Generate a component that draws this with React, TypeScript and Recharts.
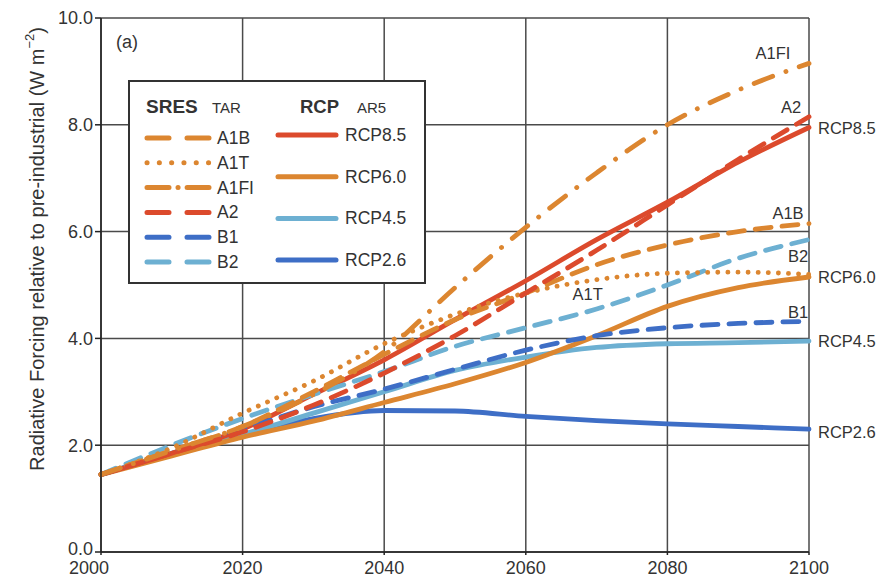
import {
  CartesianGrid,
  Label,
  LabelList,
  Legend,
  Line,
  LineChart,
  XAxis,
  YAxis,
} from 'recharts';

const YEARS = [2000, 2010, 2020, 2030, 2040, 2050, 2060, 2070, 2080, 2090, 2100];

// SRES (TAR) scenarios
const A1B = [1.45, 1.9, 2.35, 3.0, 3.7, 4.35, 4.85, 5.38, 5.75, 6.0, 6.15];
const A1T = [1.45, 1.95, 2.6, 3.2, 3.9, 4.45, 4.85, 5.1, 5.22, 5.24, 5.2];
const A1FI = [1.45, 1.9, 2.35, 2.95, 3.75, 4.95, 6.08, 7.1, 8.0, 8.65, 9.15];
const A2 = [1.45, 1.85, 2.25, 2.75, 3.35, 4.05, 4.85, 5.65, 6.5, 7.35, 8.15];
const B1 = [1.45, 1.87, 2.3, 2.72, 3.05, 3.42, 3.78, 4.05, 4.2, 4.28, 4.32];
const B2 = [1.45, 2.0, 2.5, 2.95, 3.38, 3.85, 4.2, 4.55, 5.0, 5.5, 5.85];

// RCP (AR5) pathways
const RCP85 = [1.45, 1.85, 2.3, 2.95, 3.6, 4.35, 5.08, 5.85, 6.55, 7.3, 7.95];
const RCP60 = [1.45, 1.8, 2.15, 2.45, 2.8, 3.15, 3.55, 4.05, 4.6, 4.95, 5.15];
const RCP45 = [1.45, 1.85, 2.2, 2.6, 3.0, 3.4, 3.65, 3.83, 3.9, 3.92, 3.95];
const RCP26 = [1.45, 1.85, 2.2, 2.5, 2.65, 2.64, 2.54, 2.46, 2.4, 2.35, 2.3];

const X_TICKS = [2000, 2020, 2040, 2060, 2080, 2100];
const Y_TICKS = [0, 2, 4, 6, 8, 10];

const RED = '#dc4a2c';
const ORANGE = '#dc8630';
const LIGHT = '#6db0d2';
const BLUE = '#3e6ec6';
const FONT = '"Liberation Sans", Arial, sans-serif';
const INK = '#333';

const data = YEARS.map((year, i) => ({
  year,
  A1B: A1B[i],
  A1T: A1T[i],
  A1FI: A1FI[i],
  A2: A2[i],
  B1: B1[i],
  B2: B2[i],
  RCP85: RCP85[i],
  RCP60: RCP60[i],
  RCP45: RCP45[i],
  RCP26: RCP26[i],
}));

interface Series {
  key: string;
  name: string;
  color: string;
  dash?: string;
  at: number; // index of the point the label hangs off
  dx: number;
  dy: number;
  anchor: 'start' | 'middle';
}

const LAST = YEARS.length - 1;

const RCP_SERIES: Series[] = [
  { key: 'RCP26', name: 'RCP2.6', color: BLUE, at: LAST, dx: 9, dy: 3, anchor: 'start' },
  { key: 'RCP45', name: 'RCP4.5', color: LIGHT, at: LAST, dx: 9, dy: 0, anchor: 'start' },
  { key: 'RCP60', name: 'RCP6.0', color: ORANGE, at: LAST, dx: 9, dy: 0, anchor: 'start' },
  { key: 'RCP85', name: 'RCP8.5', color: RED, at: LAST, dx: 9, dy: 1, anchor: 'start' },
];

const SRES_SERIES: Series[] = [
  { key: 'B1', name: 'B1', color: BLUE, dash: '16 11', at: LAST, dx: -11, dy: -9, anchor: 'middle' },
  { key: 'B2', name: 'B2', color: LIGHT, dash: '16 11', at: LAST, dx: -11, dy: 16, anchor: 'middle' },
  { key: 'A1T', name: 'A1T', color: ORANGE, dash: '0.1 10', at: 7, dx: -9, dy: 14, anchor: 'middle' },
  { key: 'A1B', name: 'A1B', color: ORANGE, dash: '16 11', at: LAST, dx: -21, dy: -11, anchor: 'middle' },
  { key: 'A2', name: 'A2', color: RED, dash: '16 11', at: LAST, dx: -18, dy: -10, anchor: 'middle' },
  { key: 'A1FI', name: 'A1FI', color: ORANGE, dash: '20 14 0.1 14', at: LAST, dx: -36, dy: -10, anchor: 'middle' },
];

function endLabel(s: Series) {
  return (props: any) => {
    if (props.index !== s.at) return null;
    return (
      <text
        x={Number(props.x) + s.dx}
        y={Number(props.y) + s.dy}
        textAnchor={s.anchor}
        dominantBaseline="central"
        fontFamily={FONT}
        fontSize={16.5}
        fill={INK}
      >
        {s.name}
      </text>
    );
  };
}

function YTitle(props: any) {
  const vb = props.viewBox || { x: 0, y: 18, height: 534 };
  const cx = vb.x + 37;
  const cy = vb.y + 231;
  return (
    <text
      x={cx}
      y={cy}
      transform={`rotate(-90 ${cx} ${cy})`}
      textAnchor="middle"
      dominantBaseline="central"
      fontFamily={FONT}
      fontSize={20}
      fill={INK}
    >
      Radiative Forcing relative to pre-industrial (W m
      <tspan dy={-8} fontSize={13}>
        −2
      </tspan>
      <tspan dy={8}>)</tspan>
    </text>
  );
}

// first year label is nudged left so it clears the "0.0" label
function XTick(props: any) {
  const shift = props.payload.value === X_TICKS[0] ? -12 : 0;
  return (
    <text
      x={Number(props.x) + shift}
      y={Number(props.y) + 1}
      dy="0.71em"
      textAnchor="middle"
      fontFamily={FONT}
      fontSize={18}
      fill={INK}
    >
      {props.payload.value}
    </text>
  );
}

// "0.0" sits a touch higher than its gridline, as in the original
function YTick(props: any) {
  const lift = props.payload.value === Y_TICKS[0] ? -3 : 0;
  return (
    <text
      x={props.x}
      y={Number(props.y) + lift}
      dy="0.355em"
      textAnchor="end"
      fontFamily={FONT}
      fontSize={18}
      fill={INK}
    >
      {Number(props.payload.value).toFixed(1)}
    </text>
  );
}

const SRES_LEGEND = [
  { name: 'A1B', color: ORANGE, dash: '22 18' },
  { name: 'A1T', color: ORANGE, dash: '0.1 12.2' },
  { name: 'A1FI', color: ORANGE, dash: '22 9 0.1 9' },
  { name: 'A2', color: RED, dash: '22 18' },
  { name: 'B1', color: BLUE, dash: '22 18' },
  { name: 'B2', color: LIGHT, dash: '22 18' },
];
const RCP_LEGEND = [
  { name: 'RCP8.5', color: RED },
  { name: 'RCP6.0', color: ORANGE },
  { name: 'RCP4.5', color: LIGHT },
  { name: 'RCP2.6', color: BLUE },
];

function LegendBox() {
  const txt = { fontFamily: FONT, fill: INK } as const;
  return (
    <svg width={298} height={204} style={{ display: 'block' }}>
      <rect x={1} y={1} width={296} height={202} fill="#fff" stroke="#333" strokeWidth={2} />
      <text x={18} y={33} {...txt} fontSize={19} fontWeight="bold">SRES</text>
      <text x={84} y={33} {...txt} fontSize={15}>TAR</text>
      <text x={172} y={33} {...txt} fontSize={18.5} fontWeight="bold">RCP</text>
      <text x={229} y={33} {...txt} fontSize={15}>AR5</text>
      {SRES_LEGEND.map((item, i) => {
        const y = 58 + i * 24.8;
        return (
          <g key={item.name}>
            <line
              x1={19}
              x2={81}
              y1={y}
              y2={y}
              stroke={item.color}
              strokeWidth={5}
              strokeDasharray={item.dash}
              strokeLinecap="round"
            />
            <text x={89} y={y} dominantBaseline="central" {...txt} fontSize={17.5}>
              {item.name}
            </text>
          </g>
        );
      })}
      {RCP_LEGEND.map((item, i) => {
        const y = 55 + i * 41.7;
        return (
          <g key={item.name}>
            <line x1={150} x2={208} y1={y} y2={y} stroke={item.color} strokeWidth={5} strokeLinecap="round" />
            <text x={217} y={y} dominantBaseline="central" {...txt} fontSize={17.5}>
              {item.name}
            </text>
          </g>
        );
      })}
    </svg>
  );
}

export default function App() {
  return (
    <div style={{ position: 'relative', width: 876, height: 577, background: '#fff' }}>
      <style>{'body{margin:0}'}</style>
      <LineChart
        width={876}
        height={577}
        data={data}
        margin={{ top: 18, right: 67, bottom: 0, left: 0 }}
      >
        <CartesianGrid stroke="#4a4a4a" strokeWidth={1.5} />
        <XAxis
          dataKey="year"
          type="number"
          domain={[2000, 2100]}
          ticks={X_TICKS}
          height={25}
          tickSize={3}
          tickMargin={5}
          tick={XTick}
          stroke="#222"
          strokeWidth={1.5}
        />
        <YAxis
          type="number"
          domain={[0, 10]}
          ticks={Y_TICKS}
          width={101}
          tickSize={6}
          tickMargin={2}
          tick={YTick}
          stroke="#222"
          strokeWidth={1.5}
        >
          <Label content={YTitle} />
        </YAxis>
        <Legend
          layout="vertical"
          align="center"
          verticalAlign="middle"
          content={LegendBox}
          wrapperStyle={{ position: 'absolute', left: 128, top: 80, width: 298, height: 204 }}
        />
        {[...RCP_SERIES, ...SRES_SERIES].map((s) => (
          <Line
            key={s.key}
            dataKey={s.key}
            name={s.name}
            type="monotone"
            stroke={s.color}
            strokeWidth={4.8}
            strokeDasharray={s.dash}
            strokeLinecap="round"
            dot={false}
            activeDot={false}
            isAnimationActive={false}
          >
            <LabelList dataKey={s.key} content={endLabel(s)} />
          </Line>
        ))}
      </LineChart>
      <div
        style={{
          position: 'absolute',
          left: 116,
          top: 32,
          fontFamily: FONT,
          fontSize: 18,
          color: INK,
        }}
      >
        (a)
      </div>
    </div>
  );
}
